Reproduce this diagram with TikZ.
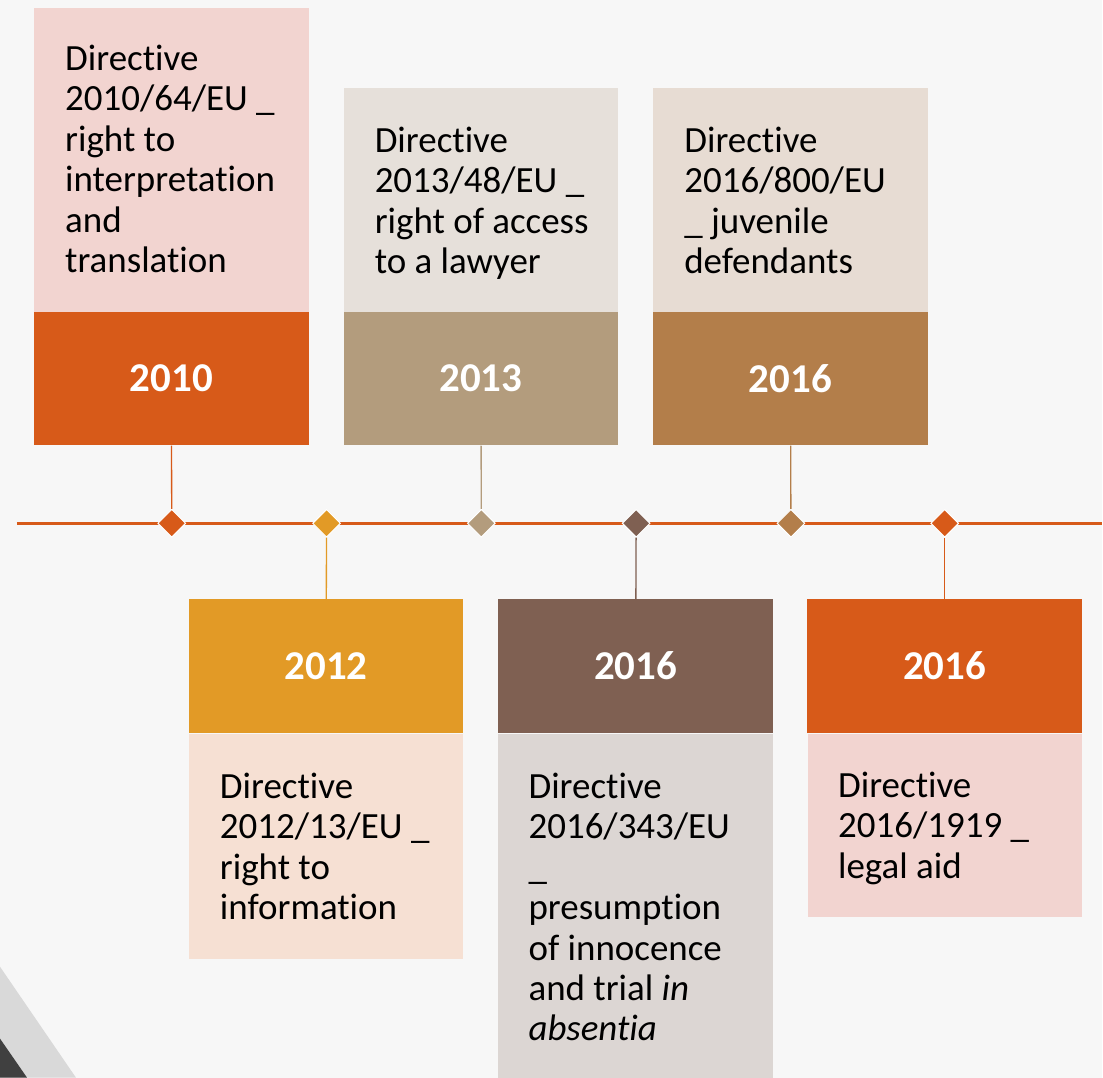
\documentclass[tikz,border=0pt]{standalone}
\usepackage{fontspec}
\setmainfont{Carlito}[RawFeature={-liga;-clig;-calt;-dlig}]
\usetikzlibrary{shapes.geometric}

\definecolor{bgcol}{HTML}{F7F7F7}
\definecolor{rust}{HTML}{D75A19}
\definecolor{rustlight}{HTML}{F2D4D0}
\definecolor{amber}{HTML}{E29A26}
\definecolor{amberlight}{HTML}{F6E0D3}
\definecolor{sand}{HTML}{B39C7D}
\definecolor{sandlight}{HTML}{E6E0DA}
\definecolor{cocoa}{HTML}{7F6052}
\definecolor{cocoalight}{HTML}{DCD6D3}
\definecolor{copper}{HTML}{B37E4A}
\definecolor{copperlight}{HTML}{E7DCD3}
\definecolor{cornerlight}{HTML}{D9D9D9}
\definecolor{cornerdark}{HTML}{404040}

\begin{document}
\begin{tikzpicture}[x=0.75pt, y=-0.75pt,
    yearbox/.style={rectangle, fill=#1, minimum width=206.25pt, minimum height=100.5pt,
        inner sep=0pt, text=white, font=\fontsize{30.75}{36}\selectfont\bfseries},
    gem/.style={diamond, fill=#1, draw=white, line width=0.75pt, minimum size=21pt, inner sep=0pt},
    desc/.style={anchor=north west, align=left, inner sep=0pt, font=\fontsize{27.75}{30.3}\selectfont},
    link/.style={draw=#1, line width=1pt}]

    % background and corner
    \fill[bgcol] (0,0) rectangle (1103,1079);
    \fill[cornerlight] (0,968) -- (76,1079) -- (0,1079) -- cycle;
    \fill[cornerdark] (0,1040) -- (27,1079) -- (0,1079) -- cycle;

    % light text boxes
    \fill[rustlight] (34,8) rectangle (309,313);
    \fill[sandlight] (344,88) rectangle (619,313);
    \fill[copperlight] (654,88) rectangle (929,313);
    \fill[amberlight] (189,735) rectangle (464,960);
    \fill[cocoalight] (499,735) rectangle (774,1079);
    \fill[rustlight] (809,735) rectangle (1083,918);

    % year boxes
    \node[yearbox=rust] (y2010) at (171.5,379) {2010};
    \node[yearbox=sand] (y2013) at (481.5,379) {2013};
    \node[yearbox=copper] (y2016a) at (791.5,379) {2016};
    \node[yearbox=amber] (y2012) at (326.5,667) {2012};
    \node[yearbox=cocoa] (y2016b) at (636.5,667) {2016};
    \node[yearbox=rust] (y2016c) at (946,667) {2016};

    % texts
    \node[desc] (t2010) at (65,45) {Directive\\2010/64/EU \_\\right to\\interpretation\\and\\translation};
    \node[desc] (t2013) at (375,127) {Directive\\2013/48/EU \_\\right of access\\to a lawyer};
    \node[desc] (t2016a) at (685,127) {Directive\\2016/800/EU\\\_ juvenile\\defendants};
    \node[desc] (t2012) at (220,774) {Directive\\2012/13/EU \_\\right to\\information};
    \node[desc] (t2016b) at (529,774) {Directive\\2016/343/EU\\\_\\presumption\\of innocence\\and trial \textit{in}\\\textit{absentia}};
    \node[desc] (t2016c) at (839,773) {Directive\\2016/1919 \_\\legal aid};

    % timeline
    \coordinate (lineL) at (17,524);
    \coordinate (lineR) at (1103,524);
    \draw[rust, line width=2.25pt] (lineL) -- (lineR);

    \node[gem=rust] (d2010) at (172,524) {};
    \node[gem=amber] (d2012) at (327,524) {};
    \node[gem=sand] (d2013) at (482,524) {};
    \node[gem=cocoa] (d2016b) at (637,524) {};
    \node[gem=copper] (d2016a) at (792,524) {};
    \node[gem=rust] (d2016c) at (946,524) {};

    % connectors
    \draw[link=rust] (y2010) -- (d2010);
    \draw[link=amber] (y2012) -- (d2012);
    \draw[link=sand] (y2013) -- (d2013);
    \draw[link=cocoa] (y2016b) -- (d2016b);
    \draw[link=copper] (y2016a) -- (d2016a);
    \draw[link=rust] (y2016c) -- (d2016c);
\end{tikzpicture}
\end{document}
